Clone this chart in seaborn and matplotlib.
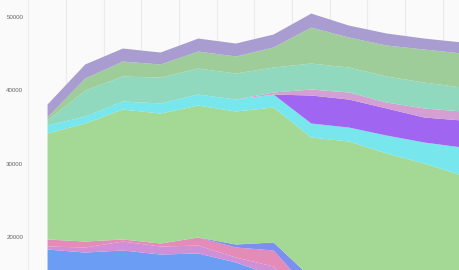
import matplotlib
matplotlib.use("Agg")
import matplotlib.pyplot as plt
import seaborn as sns
import numpy as np

# ---- data (stacked area series, bottom to top) ----
categories = list(range(12))
blue        = [18360, 17950, 18230, 17680, 17820, 16590, 14800, 8000, 7800, 7600, 7500, 7400]
orchid      = [410, 690, 1220, 1090, 1080, 680, 1250, 2000, 2000, 2000, 2000, 2000]
pink        = [960, 810, 280, 410, 1100, 1370, 2180, 2500, 2500, 2500, 2500, 2500]
blue_violet = [0, 0, 0, 0, 0, 405, 1090, 2000, 2000, 2000, 2000, 2000]
green       = [14460, 16100, 17730, 17730, 18000, 18145, 18410, 19140, 18800, 17360, 16090, 14560]
cyan        = [1090, 950, 1090, 1370, 1500, 1630, 1770, 1910, 1900, 2450, 2870, 3820]
violet      = [0, 0, 0, 0, 0, 0, 0, 3820, 3820, 3690, 3410, 3680]
orchid2     = [0, 0, 0, 0, 0, 0, 280, 820, 960, 810, 1230, 1230]
teal        = [680, 3550, 3410, 3540, 3550, 3550, 3410, 3540, 3410, 3550, 3540, 3270]
green2      = [410, 1640, 2040, 1780, 2320, 2320, 2730, 4910, 4090, 4230, 4500, 4640]
purple      = [1770, 1910, 1780, 1630, 1770, 1770, 1770, 1910, 1630, 1640, 1500, 1500]
y_ticks = [20000, 30000, 40000, 50000]

series = [blue, orchid, pink, blue_violet, green, cyan, violet, orchid2, teal, green2, purple]
colors = ["#6a9df3", "#cf90d8", "#e48bb8", "#7c8ff0", "#a3d994", "#77e6ed",
          "#a066f2", "#d49fd2", "#90d9be", "#9ecd99", "#a89cd0"]

sns.set_theme(style="white")
plt.rcParams['font.family'] = ['Liberation Sans', 'DejaVu Sans']

fig = plt.figure(figsize=(4.6, 2.7), dpi=100)
fig.patch.set_facecolor("#fafafa")
left = 28.2 / 460
ax = fig.add_axes([left, 0, 1 - left, 1])
ax.set_facecolor("#fafafa")

ax.stackplot(categories, *series, colors=colors, linewidth=0, antialiased=True, zorder=2)

for i in range(len(categories)):
    ax.axvline(i - 0.5, color="#ececec", linewidth=0.9, zorder=1)

ax.set_xlim(-0.5, 10.96)
ax.set_ylim(15500, 52330)
ax.set_yticks(y_ticks)
ax.set_yticklabels([str(v) for v in y_ticks])
ax.set_xticks([])
ax.tick_params(axis="y", length=0, pad=3.6, labelsize=4.4, labelcolor="#666666")
for s in ax.spines.values():
    s.set_visible(False)
ax.grid(False)

fig.savefig("out.png", dpi=100, facecolor=fig.get_facecolor())
